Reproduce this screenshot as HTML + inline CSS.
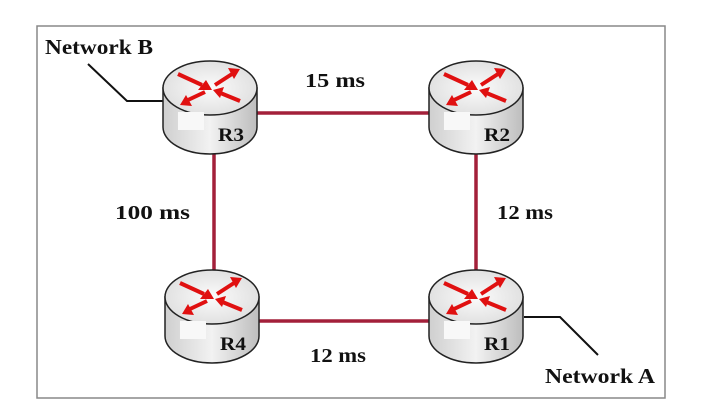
<!DOCTYPE html>
<html><head><style>
html,body{margin:0;padding:0;background:#fff;}
svg{display:block;}
text{font-family:"Liberation Serif",serif;font-weight:bold;fill:#111;}
</style></head><body>
<svg width="701" height="414" viewBox="0 0 701 414">
<defs>
<linearGradient id="side" x1="0" x2="1" y1="0" y2="0">
<stop offset="0" stop-color="#cfcfcf"/><stop offset="0.5" stop-color="#f2f2f2"/><stop offset="1" stop-color="#bdbdbd"/>
</linearGradient>
<radialGradient id="top" cx="0.5" cy="0.5" r="0.6">
<stop offset="0" stop-color="#fbfbfb"/><stop offset="1" stop-color="#dcdcdc"/>
</radialGradient>
<g id="router">
<path d="M-47,0 L-47,39 A47,27 0 0 0 47,39 L47,0 Z" fill="url(#side)" stroke="#222" stroke-width="1.5"/>
<ellipse cx="0" cy="0" rx="47" ry="27" fill="url(#top)" stroke="#222" stroke-width="1.5"/>
<rect x="-32" y="24" width="26" height="18" fill="#f8f8f8"/>
<g stroke="#e01010" stroke-width="4" fill="#e01010">
<line x1="-32" y1="-14" x2="-8" y2="-3"/><polygon points="-4,-8 2,2 -12,2" stroke="none"/>
<line x1="5" y1="-3" x2="22" y2="-14"/><polygon points="30,-19 18,-20 24,-9" stroke="none"/>
<line x1="-5" y1="4" x2="-22" y2="12"/><polygon points="-30,17 -18,18 -24,7" stroke="none"/>
<line x1="30" y1="13" x2="8" y2="4"/><polygon points="3,2 14,-1 10,10" stroke="none"/>
</g>
</g>
</defs>
<rect x="37" y="26" width="628" height="372" fill="#fff" stroke="#888" stroke-width="1.5"/>
<g stroke="#a3203a" stroke-width="3.5">
<line x1="216" y1="113" x2="476" y2="113"/>
<line x1="214" y1="140" x2="214" y2="300"/>
<line x1="476" y1="140" x2="476" y2="300"/>
<line x1="214" y1="321" x2="476" y2="321"/>
</g>
<g stroke="#111" stroke-width="2" fill="none">
<polyline points="88,64 127,101 163,101"/>
<polyline points="524,317 560,317 598,355"/>
</g>
<use href="#router" x="210" y="88"/>
<use href="#router" x="476" y="88"/>
<use href="#router" x="212" y="297"/>
<use href="#router" x="476" y="297"/>
<text x="218" y="141" font-size="19" textLength="26" lengthAdjust="spacingAndGlyphs">R3</text>
<text x="484" y="141" font-size="19" textLength="26" lengthAdjust="spacingAndGlyphs">R2</text>
<text x="220" y="350" font-size="19" textLength="26" lengthAdjust="spacingAndGlyphs">R4</text>
<text x="484" y="350" font-size="19" textLength="26" lengthAdjust="spacingAndGlyphs">R1</text>
<text x="45" y="54" font-size="21" textLength="108" lengthAdjust="spacingAndGlyphs">Network B</text>
<text x="545" y="383" font-size="21" textLength="110" lengthAdjust="spacingAndGlyphs">Network A</text>
<text x="305" y="87" font-size="20" textLength="60" lengthAdjust="spacingAndGlyphs">15 ms</text>
<text x="115" y="219" font-size="20" textLength="75" lengthAdjust="spacingAndGlyphs">100 ms</text>
<text x="497" y="219" font-size="20" textLength="56" lengthAdjust="spacingAndGlyphs">12 ms</text>
<text x="310" y="362" font-size="20" textLength="56" lengthAdjust="spacingAndGlyphs">12 ms</text>
</svg>
</body></html>
